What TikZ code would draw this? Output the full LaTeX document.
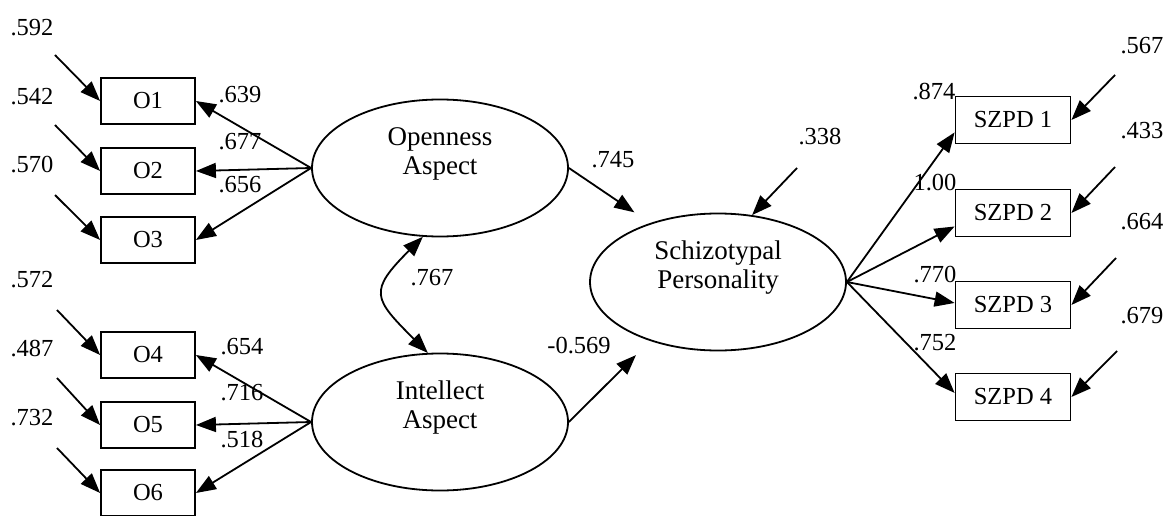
\documentclass[tikz,border=0pt]{standalone}
\usepackage{fontspec}
\setmainfont{Liberation Serif}
\usepackage{tikz}
\usetikzlibrary{arrows.meta,shapes.geometric}
\newcommand{\uptxt}[1]{\raisebox{14pt}[\height][\depth]{\begin{tabular}{@{}c@{}}#1\end{tabular}}}

\begin{document}
\begin{tikzpicture}[x=1pt,y=1pt,>={Triangle[length=20pt,width=15pt]},font=\fontsize{24.5}{26}\selectfont]
 \tikzset{obs/.style={draw,line width=1.8pt,minimum width=94pt,minimum height=46pt,inner sep=0pt},
          szbox/.style={obs,minimum width=115pt,minimum height=47pt},
          lat/.style={draw,ellipse,line width=1.8pt,minimum width=256pt,minimum height=137pt,inner sep=0pt,
                      font=\fontsize{27}{29}\selectfont},
          arr/.style={->,line width=1.8pt},
          num/.style={inner sep=0pt}}
 \useasboundingbox (0,0) rectangle (1166,-516);
 % indicators and latent factors
 \node[obs] (o1) at (148,-101) {O1};
 \node[obs] (o2) at (148,-171) {O2};
 \node[obs] (o3) at (148,-240) {O3};
 \node[obs] (o4) at (148,-355) {O4};
 \node[obs] (o5) at (148,-425) {O5};
 \node[obs] (o6) at (148,-493) {O6};
 \node[lat] (open) at (440,-168) {\uptxt{Openness\\Aspect}};
 \node[lat] (intel) at (440,-422) {\uptxt{Intellect\\Aspect}};
 \node[lat] (schizo) at (718,-282) {\uptxt{Schizotypal\\Personality}};
 \node[szbox] (sz1) at (1013,-120) {SZPD 1};
 \node[szbox] (sz2) at (1013,-213) {SZPD 2};
 \node[szbox] (sz3) at (1013,-305) {SZPD 3};
 \node[szbox] (sz4) at (1013,-397) {SZPD 4};
 % error terms
 \coordinate (e1) at (55,-55); \coordinate (e2) at (55,-125); \coordinate (e3) at (55,-195);
 \coordinate (e4) at (57,-310); \coordinate (e5) at (57,-378); \coordinate (e6) at (57,-448);
 \coordinate (f1) at (1115,-75); \coordinate (f2) at (1115,-167);
 \coordinate (f3) at (1116,-258); \coordinate (f4) at (1117,-351);
 \coordinate (d1) at (797,-168);
 \draw[arr] (e1)--(o1.west); \draw[arr] (e2)--(o2.west); \draw[arr] (e3)--(o3.west);
 \draw[arr] (e4)--(o4.west); \draw[arr] (e5)--(o5.west); \draw[arr] (e6)--(o6.west);
 \draw[arr] (f1)--(sz1.east); \draw[arr] (f2)--(sz2.east);
 \draw[arr] (f3)--(sz3.east); \draw[arr] (f4)--(sz4.east);
 \draw[arr] (d1)--(schizo.63);
 \node[num] (v1) at (32,-28) {.592}; \node[num] (v2) at (32,-97) {.542}; \node[num] (v3) at (32,-165) {.570};
 \node[num] (v4) at (32,-280) {.572}; \node[num] (v5) at (32,-349) {.487}; \node[num] (v6) at (32,-418) {.732};
 \node[num] (w1) at (1142,-46) {.567}; \node[num] (w2) at (1142,-131) {.433};
 \node[num] (w3) at (1142,-222) {.664}; \node[num] (w4) at (1142,-316) {.679};
 \node[num] (r1) at (820,-137) {.338};
 % loadings
 \draw[arr] (open.west)--(o1.east); \draw[arr] (open.west)--(o2.east); \draw[arr] (open.west)--(o3.east);
 \draw[arr] (intel.west)--(o4.east); \draw[arr] (intel.west)--(o5.east); \draw[arr] (intel.west)--(o6.east);
 \draw[arr] (schizo.east)--(sz1.192); \draw[arr] (schizo.east)--(sz2.193);
 \draw[arr] (schizo.east)--(sz3.178); \draw[arr] (schizo.east)--(sz4.176);
 \node[num] (l1) at (240,-95) {.639}; \node[num] (l2) at (240,-142) {.677}; \node[num] (l3) at (240,-185) {.656};
 \node[num] (l4) at (242,-347) {.654}; \node[num] (l5) at (242,-393) {.716}; \node[num] (l6) at (242,-440) {.518};
 \node[num] (k1) at (934,-92) {.874}; \node[num] (k2) at (935,-183) {1.00};
 \node[num] (k3) at (935,-275) {.770}; \node[num] (k4) at (935,-343) {.752};
 % structural paths
 \draw[arr,shorten >=19pt] (open.east)--(schizo.139);
 \draw[arr,shorten >=20pt] (intel.east)--(schizo.221);
 \draw[<->,line width=1.8pt] (open.256) to[out=225,in=135,looseness=1.7] (intel.100);
 \node[num] (p1) at (613,-160) {.745};
 \node[num] (p2) at (579,-346) {-0.569};
 \node[num] (c1) at (432,-278) {.767};
\end{tikzpicture}
\end{document}
